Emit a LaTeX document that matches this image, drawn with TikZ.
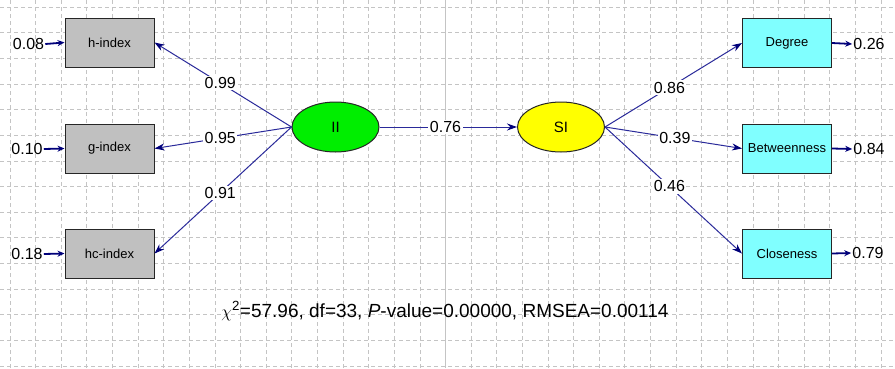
\documentclass[tikz,border=0pt]{standalone}
\usepackage{fontspec}
\setmainfont{Liberation Sans}
\usetikzlibrary{arrows.meta,shapes.geometric}
\definecolor{pathc}{HTML}{2A2A9A}
\definecolor{headc}{HTML}{00007A}
\definecolor{gridc}{HTML}{C4C4C4}
\definecolor{boxgray}{HTML}{C0C0C0}
\definecolor{boxcyan}{HTML}{80FFFF}
\definecolor{ellgreen}{HTML}{00EE00}
\definecolor{ellyellow}{HTML}{FFFF00}
\tikzset{
  gridline/.style={gridc, line width=0.8pt, dash pattern=on 4pt off 3pt},
  midline/.style={gridc, line width=1.5pt},
  obsbox/.style={draw=black!85, line width=1pt, rectangle, minimum width=89pt, minimum height=49pt, inner sep=0pt, font=\fontsize{13}{15}\selectfont},
  latent/.style={draw=black!85, line width=1pt, ellipse, minimum width=87pt, minimum height=50pt, inner sep=0pt, font=\fontsize{15}{17}\selectfont},
  coef/.style={fill=white, text=black, inner sep=1.5pt, font=\fontsize{16}{18}\selectfont},
  errlbl/.style={inner sep=1pt, text=black, font=\fontsize{16}{18}\selectfont},
  pathline/.style={pathc, line width=1pt, -{Stealth[length=10pt,width=7pt,color=headc]}},
  errline/.style={headc, line width=1.8pt, -{Stealth[length=7pt,width=6pt]}},
}
\begin{document}
\begin{tikzpicture}[x=1pt,y=-1pt]
\useasboundingbox (0,0) rectangle (895,368);
\fill[white] (0,0) rectangle (895,368);
% grid
\foreach \k in {0,...,34} \draw[gridline] ({10+25.62*\k},0) -- ({10+25.62*\k},368);
\foreach \k in {0,...,14} \draw[gridline] (0,{7+25.65*\k}) -- (895,{7+25.65*\k});
\draw[midline] (445.5,0) -- (445.5,368);
% observed variables
\node[obsbox, fill=boxgray] (h) at (109.5,42.5) {h-index};
\node[obsbox, fill=boxgray] (g) at (109.5,148.5) {g-index};
\node[obsbox, fill=boxgray] (hc) at (109.5,253.5) {hc-index};
\node[obsbox, fill=boxcyan] (deg) at (787,43) {Degree};
\node[obsbox, fill=boxcyan] (btw) at (787,148.5) {Betweenness};
\node[obsbox, fill=boxcyan] (clo) at (787,253.5) {Closeness};
% latent variables
\node[latent, fill=ellgreen] (II) at (335.5,127) {II};
\node[latent, fill=ellyellow] (SI) at (561,127) {SI};
% error labels
\node[errlbl] (eh) at (28.5,44) {0.08};
\node[errlbl] (eg) at (27,149) {0.10};
\node[errlbl] (ehc) at (27,254) {0.18};
\node[errlbl] (edeg) at (869,44) {0.26};
\node[errlbl] (ebtw) at (869,149) {0.84};
\node[errlbl] (eclo) at (868,253) {0.79};
\draw[errline] (eh.east) -- (h.west);
\draw[errline] (eg.east) -- (g.west);
\draw[errline] (ehc.east) -- (hc.west);
\draw[errline] (deg.east) -- (edeg.west);
\draw[errline] (btw.east) -- (ebtw.west);
\draw[errline] (clo.east) -- (eclo.west);
% structural paths
\draw[pathline] (II.west) -- node[coef, pos=0.52] {0.99} (h.east);
\draw[pathline] (II.west) -- node[coef, pos=0.52] {0.95} (g.east);
\draw[pathline] (II.west) -- node[coef, pos=0.52] {0.91} (hc.east);
\draw[pathline] (II.east) -- node[coef, pos=0.48] {0.76} (SI.west);
\draw[pathline] (SI.east) -- node[coef, pos=0.47] {0.86} (deg.west);
\draw[pathline] (SI.east) -- node[coef, pos=0.51] {0.39} (btw.west);
\draw[pathline] (SI.east) -- node[coef, pos=0.47] {0.46} (clo.west);
% fit statistics
\node[font=\fontsize{19}{21}\selectfont, inner sep=1pt] (fit) at (445,311) {$\chi$\textsuperscript{2}=57.96, df=33, \textit{P}-value=0.00000, RMSEA=0.00114};
\end{tikzpicture}
\end{document}
